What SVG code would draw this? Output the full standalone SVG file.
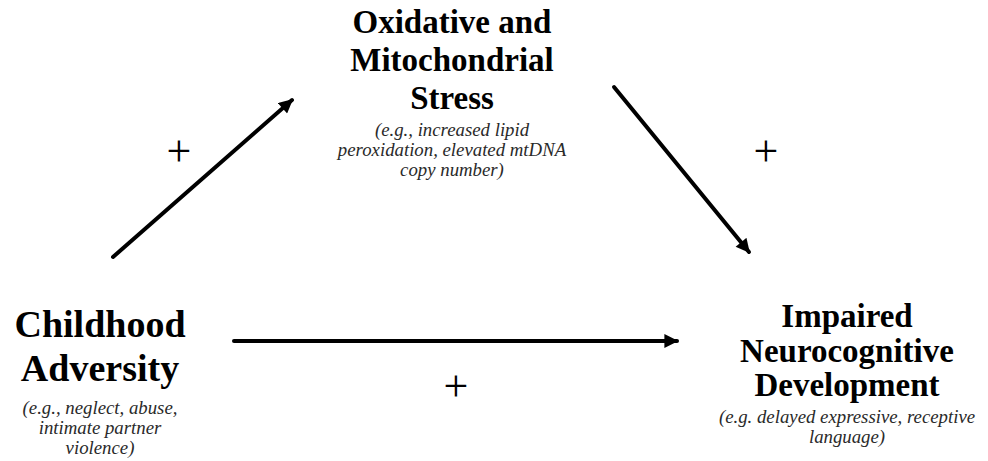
<svg xmlns="http://www.w3.org/2000/svg" width="988" height="461" viewBox="0 0 988 461">
<style>
.h{font-family:"Liberation Serif","Times New Roman",serif;font-weight:bold;fill:#000;text-anchor:middle}
.s{font-family:"Liberation Serif","Times New Roman",serif;font-style:italic;font-size:18.8px;fill:#2a2a2a;text-anchor:middle}
.p{font-family:"Liberation Serif","Times New Roman",serif;font-size:44px;fill:#000;text-anchor:middle}
.c{stroke:#000;stroke-width:4;fill:none;stroke-linecap:round}
</style>
<defs>
<marker id="ah" viewBox="0 0 10 10" refX="9" refY="5" markerWidth="15" markerHeight="14" markerUnits="userSpaceOnUse" orient="auto">
<path d="M0,0 L10,5 L0,10 Z" fill="#000"/>
</marker>
</defs>
<rect width="988" height="461" fill="#fff"/>
<g id="connectors">
<line class="c" x1="113" y1="257" x2="292" y2="100" marker-end="url(#ah)"/>
<line class="c" x1="614" y1="87" x2="749" y2="252" marker-end="url(#ah)"/>
<line class="c" x1="234" y1="341" x2="677" y2="341" marker-end="url(#ah)"/>
<text class="p" x="179" y="166">+</text>
<text class="p" x="766" y="166">+</text>
<text class="p" x="456" y="401">+</text>
</g>
<g id="childhood">
<text class="h" x="100" y="337" font-size="38">Childhood</text>
<text class="h" x="100" y="381" font-size="38">Adversity</text>
<text class="s" x="100" y="414">(e.g., neglect, abuse,</text>
<text class="s" x="100" y="434">intimate partner</text>
<text class="s" x="100" y="454">violence)</text>
</g>
<g id="oxidative">
<text class="h" x="452" y="33" font-size="33">Oxidative and</text>
<text class="h" x="452" y="71" font-size="33">Mitochondrial</text>
<text class="h" x="452" y="109" font-size="33">Stress</text>
<text class="s" x="452" y="136">(e.g., increased lipid</text>
<text class="s" x="452" y="156">peroxidation, elevated mtDNA</text>
<text class="s" x="452" y="176">copy number)</text>
</g>
<g id="impaired">
<text class="h" x="847" y="327" font-size="33">Impaired</text>
<text class="h" x="847" y="362" font-size="33">Neurocognitive</text>
<text class="h" x="847" y="396" font-size="33">Development</text>
<text class="s" x="847" y="423">(e.g. delayed expressive, receptive</text>
<text class="s" x="847" y="443">language)</text>
</g>
</svg>
